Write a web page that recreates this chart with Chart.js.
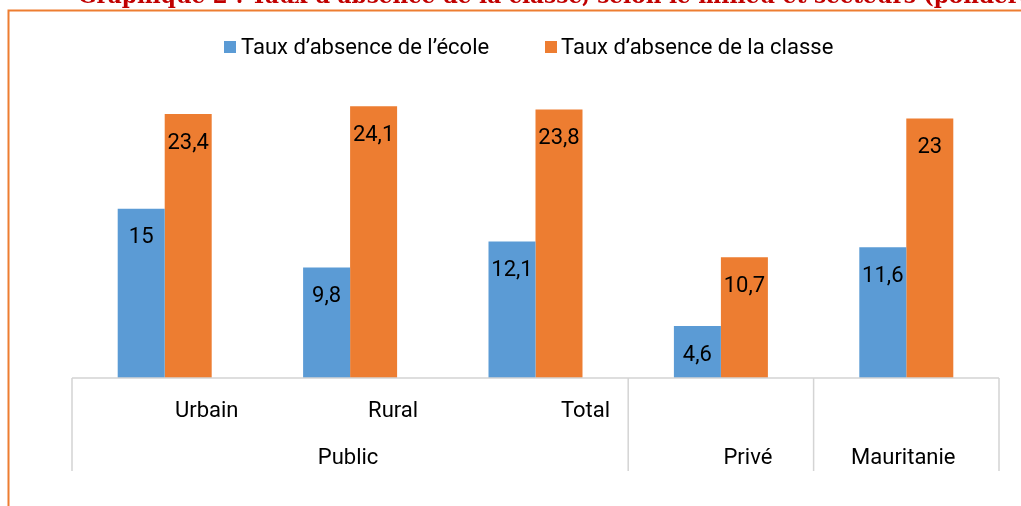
<!DOCTYPE html>
<html>
<head>
<meta charset="utf-8">
<script src="https://cdn.jsdelivr.net/npm/chart.js@4.4.1/dist/chart.umd.min.js"></script>
<style>
    html, body { margin: 0; padding: 0; background: #fff; overflow: hidden; }
    #wrap { width: 1021px; height: 506px; position: relative; }
</style>
</head>
<body>
<div id="wrap"><canvas id="absenceChart" width="1021" height="506"></canvas></div>
<script>
const categories = ['Urbain', 'Rural', 'Total', 'Privé', 'Mauritanie'];
const groups = [
    {label: 'Public', from: 0, to: 2},
    {label: 'Privé', from: 3, to: 3},
    {label: 'Mauritanie', from: 4, to: 4}
];
const ecoleValues = [15, 9.8, 12.1, 4.6, 11.6];
const classeValues = [23.4, 24.1, 23.8, 10.7, 23];
const seriesNames = ['Taux d\u2019absence de l\u2019école', 'Taux d\u2019absence de la classe'];
const chartTitle = 'Graphique 2 : Taux d\u2019absence de la classe, selon le milieu et secteurs (pondéré)';

const BLUE = '#5b9bd5';
const ORANGE = '#ed7d31';
const FONT = '22px Roboto';

// the category axis is drawn by hand (two rows, like the Excel one)
const rowOneLabels = ['Urbain', 'Rural', 'Total', '', ''];
const rowOneShift = [42, 43, 50, 0, 0];
const groupShift = [-2, 27, -3];

const framePlugin = {
    id: 'frame',
    afterDraw(chart) {
        const {ctx, chartArea, scales: {x}} = chart;
        ctx.save();

        // title, cut at the top of the page
        ctx.fillStyle = '#c00000';
        ctx.font = 'bold 21.6px "DejaVu Serif"';
        ctx.textAlign = 'left';
        ctx.textBaseline = 'alphabetic';
        ctx.fillText(chartTitle, 78, 3);

        // orange border
        ctx.strokeStyle = ORANGE;
        ctx.lineWidth = 2;
        ctx.beginPath();
        ctx.moveTo(8.5, 506);
        ctx.lineTo(8.5, 10.5);
        ctx.lineTo(1021, 10.5);
        ctx.stroke();

        // legend
        ctx.font = FONT;
        ctx.textBaseline = 'middle';
        ctx.fillStyle = BLUE;
        ctx.fillRect(224, 41, 12, 12);
        ctx.fillStyle = ORANGE;
        ctx.fillRect(545, 41, 12, 12);
        ctx.fillStyle = '#000';
        ctx.fillText(seriesNames[0], 241, 48);
        ctx.fillText(seriesNames[1], 561, 48);

        // axis table
        const bottom = 471;
        const half = (x.getPixelForValue(1) - x.getPixelForValue(0)) / 2;
        ctx.strokeStyle = '#d4d4d4';
        ctx.lineWidth = 1.5;
        ctx.beginPath();
        ctx.moveTo(chartArea.left, chartArea.bottom);
        ctx.lineTo(chartArea.right, chartArea.bottom);
        ctx.moveTo(chartArea.left, chartArea.bottom);
        ctx.lineTo(chartArea.left, bottom);
        groups.forEach(g => {
            const edge = x.getPixelForValue(g.to) + half;
            ctx.moveTo(edge, chartArea.bottom);
            ctx.lineTo(edge, bottom);
        });
        ctx.stroke();

        ctx.fillStyle = '#000';
        ctx.textAlign = 'center';
        ctx.textBaseline = 'alphabetic';
        rowOneLabels.forEach((lbl, i) => {
            if (lbl) ctx.fillText(lbl, x.getPixelForValue(i) + rowOneShift[i], 417);
        });
        groups.forEach((g, i) => {
            const mid = (x.getPixelForValue(g.from) + x.getPixelForValue(g.to)) / 2;
            ctx.fillText(g.label, mid + groupShift[i], 464);
        });

        ctx.restore();
    }
};

const valueLabels = {
    id: 'valueLabels',
    afterDatasetsDraw(chart) {
        const {ctx} = chart;
        ctx.save();
        ctx.font = FONT;
        ctx.fillStyle = '#000';
        ctx.textAlign = 'center';
        ctx.textBaseline = 'middle';
        chart.data.datasets.forEach((ds, i) => {
            chart.getDatasetMeta(i).data.forEach((bar, j) => {
                const txt = String(ds.data[j]).replace('.', ',');
                ctx.fillText(txt, bar.x, bar.y + 29);
            });
        });
        ctx.restore();
    }
};

new Chart(document.getElementById('absenceChart'), {
    type: 'bar',
    data: {
        labels: categories,
        datasets: [
            {label: seriesNames[0], data: ecoleValues, backgroundColor: BLUE},
            {label: seriesNames[1], data: classeValues, backgroundColor: ORANGE}
        ]
    },
    options: {
        responsive: false,
        animation: false,
        layout: {padding: {top: 96, left: 72, right: 22, bottom: 128}},
        datasets: {bar: {categoryPercentage: 0.507, barPercentage: 1.0}},
        scales: {
            x: {display: false},
            y: {display: false, min: 0, max: 25}
        },
        plugins: {
            legend: {display: false},
            tooltip: {enabled: false}
        }
    },
    plugins: [valueLabels, framePlugin]
});
</script>
</body>
</html>
